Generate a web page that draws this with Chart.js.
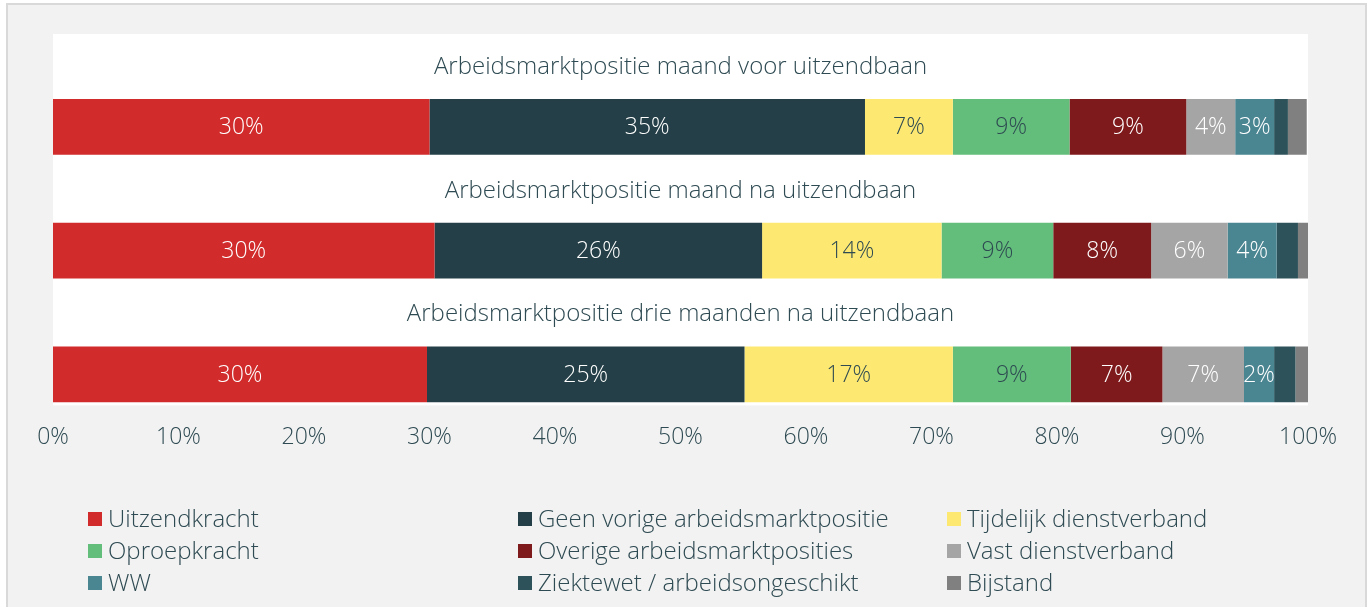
<!DOCTYPE html>
<html>
<head>
<meta charset="utf-8">
<script src="https://cdn.jsdelivr.net/npm/chart.js@4"></script>
<style>
  html, body { margin: 0; padding: 0; background: #fff; }
  #wrap { width: 1370px; height: 607px; }
</style>
</head>
<body>
<div id="wrap"><canvas id="posChart" width="1370" height="607"></canvas></div>
<script>
// row titles (one per bar)
var rowTitles = [
  "Arbeidsmarktpositie maand voor uitzendbaan",
  "Arbeidsmarktpositie maand na uitzendbaan",
  "Arbeidsmarktpositie drie maanden na uitzendbaan"
];

var seriesNames = [
  "Uitzendkracht",
  "Geen vorige arbeidsmarktpositie",
  "Tijdelijk dienstverband",
  "Oproepkracht",
  "Overige arbeidsmarktposities",
  "Vast dienstverband",
  "WW",
  "Ziektewet / arbeidsongeschikt",
  "Bijstand"
];

// share per row (voor, na, drie maanden na), in %
var uitzendkracht = [30.0, 30.4, 29.8];
var geenVorige    = [34.7, 26.1, 25.3];
var tijdelijk     = [7.0, 14.3, 16.6];
var oproepkracht  = [9.3, 8.9, 9.4];
var overige       = [9.3, 7.8, 7.3];
var vast          = [3.9, 6.1, 6.5];
var ww            = [3.1, 3.9, 2.4];
var ziektewet     = [1.1, 1.7, 1.7];
var bijstand      = [1.5, 0.9, 1.0];

var seriesValues = [uitzendkracht, geenVorige, tijdelijk, oproepkracht, overige, vast, ww, ziektewet, bijstand];
var seriesColors = ["#d22b2b", "#243f47", "#fde971", "#63be7b", "#7f1a1c", "#a5a5a5", "#4a8592", "#2d525a", "#808080"];
var labelColors  = ["#fff", "#fff", "#2e4a52", "#2e4a52", "#fff", "#fff", "#fff", "#fff", "#fff"];

var xTicks = [0, 10, 20, 30, 40, 50, 60, 70, 80, 90, 100];

var textColor = "#2e4a52";
var fontFamily = "'Open Sans', Lato, sans-serif";

// each bar gets a title slot above it
var slots = [];
rowTitles.forEach(function (t, i) { slots.push("title" + i); slots.push("bar" + i); });

function spread(vals) {
  var out = [];
  vals.forEach(function (v) { out.push(null); out.push(v); });
  return out;
}

var datasets = seriesNames.map(function (name, i) {
  return {
    label: name,
    data: spread(seriesValues[i]),
    backgroundColor: seriesColors[i],
    borderWidth: 0,
    categoryPercentage: 1,
    barPercentage: 0.9
  };
});

var framePlugin = {
  id: "frame",
  beforeDraw: function (chart) {
    var ctx = chart.ctx, a = chart.chartArea;
    ctx.save();
    ctx.fillStyle = "#ffffff";
    ctx.fillRect(0, 0, chart.width, chart.height);
    ctx.fillStyle = "#f2f2f2";
    ctx.fillRect(7, 4, 1359, 620);
    ctx.strokeStyle = "#d9d9d9";
    ctx.lineWidth = 2;
    ctx.strokeRect(7, 4, 1359, 620);
    ctx.fillStyle = "#ffffff";
    ctx.fillRect(a.left, a.top, a.right - a.left, a.bottom - a.top);
    ctx.restore();
  }
};

var labelsPlugin = {
  id: "segLabels",
  afterDatasetsDraw: function (chart) {
    var ctx = chart.ctx, a = chart.chartArea;
    var yScale = chart.scales.y;
    ctx.save();
    ctx.textAlign = "center";
    ctx.textBaseline = "middle";
    // row titles
    ctx.font = "300 24px " + fontFamily;
    ctx.fillStyle = textColor;
    rowTitles.forEach(function (t, i) {
      ctx.fillText(t, (a.left + a.right) / 2, yScale.getPixelForValue(i * 2) + 2);
    });
    // value labels
    ctx.font = "300 23px " + fontFamily;
    chart.data.datasets.forEach(function (ds, di) {
      var meta = chart.getDatasetMeta(di);
      meta.data.forEach(function (el, j) {
        var v = ds.data[j];
        if (v === null || v < 2) return;
        ctx.fillStyle = labelColors[di];
        ctx.fillText(Math.round(v) + "%", (el.x + el.base) / 2, el.y + 1);
      });
    });
    ctx.restore();
  }
};

var legendPlugin = {
  id: "gridLegend",
  afterDraw: function (chart) {
    var ctx = chart.ctx;
    var colX = [88, 518, 947];
    var rowY = [519, 551, 583];
    ctx.save();
    ctx.font = "300 24px " + fontFamily;
    ctx.textBaseline = "middle";
    ctx.textAlign = "left";
    chart.data.datasets.forEach(function (ds, i) {
      var x = colX[i % 3], y = rowY[Math.floor(i / 3)];
      ctx.fillStyle = ds.backgroundColor;
      ctx.fillRect(x, y - 7, 14, 14);
      ctx.fillStyle = textColor;
      ctx.fillText(ds.label, x + 20, y + 1);
    });
    ctx.restore();
  }
};

new Chart(document.getElementById("posChart"), {
  type: "bar",
  data: { labels: slots, datasets: datasets },
  plugins: [framePlugin, labelsPlugin, legendPlugin],
  options: {
    indexAxis: "y",
    responsive: false,
    animation: false,
    layout: { padding: { left: 53, right: 62, top: 34, bottom: 138 } },
    plugins: { legend: { display: false }, tooltip: { enabled: false } },
    scales: {
      y: { stacked: true, display: false },
      x: {
        stacked: true,
        min: 0,
        max: 100,
        afterBuildTicks: function (scale) {
          scale.ticks = xTicks.map(function (v) { return { value: v }; });
        },
        grid: { display: false, drawTicks: false },
        border: { display: false },
        ticks: {
          padding: 18,
          color: textColor,
          font: { size: 23, family: fontFamily, weight: 300 },
          callback: function (v) { return v + "%"; }
        }
      }
    }
  }
});
</script>
</body>
</html>
